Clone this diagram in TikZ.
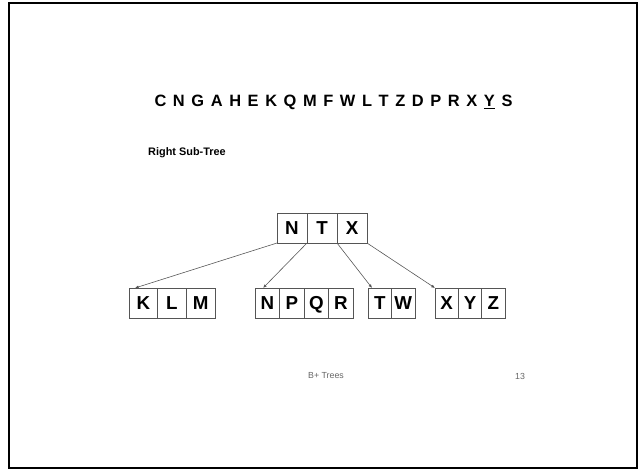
\documentclass[tikz,border=0pt]{standalone}
\usepackage{fontspec}
\setmainfont{Liberation Sans}
\newfontfamily\seqfont[WordSpace=1.45]{Liberation Sans}
\usetikzlibrary{arrows.meta,positioning}
\definecolor{BTLine}{HTML}{555555}
\definecolor{BTFoot}{HTML}{666666}
\tikzset{
  btKey/.style={
    rectangle, draw=BTLine, line width=0.5pt, fill=white,
    minimum width=#1, minimum height=0.9cm, inner sep=0pt, outer sep=0pt,
    text height=11.5pt, text depth=0pt,
    font=\fontsize{16}{16}\selectfont\bfseries
  },
  btKey/.default=0.9cm,
  btLink/.style={-{Latex[length=1.1mm,width=0.9mm]}, draw=BTLine, line width=0.5pt},
  btFoot/.style={font=\fontsize{7.5}{8}\selectfont, text=BTFoot, inner sep=0pt}
}

\begin{document}
\begin{tikzpicture}[x=0.03cm, y=-0.03cm]
  \useasboundingbox (0,0) rectangle (639,471);
  \draw[line width=1.6pt] (9,3) rectangle (637,468);

  % insertion sequence and caption
  \node (seq) at (333.5,102) {\seqfont\bfseries\fontsize{14}{14}\selectfont C N G A H E K Q M F W L T Z D P R X \underline{Y} S};
  \node[anchor=west, inner sep=0pt, font=\fontsize{9.3}{10}\selectfont\bfseries] (cap) at (148,153) {Right Sub-Tree};

  % root
  \node[btKey] (r1) at (292,228) {N};
  \node[btKey, right=0pt of r1] (r2) {T};
  \node[btKey, right=0pt of r2] (r3) {X};

  % leaves
  \node[btKey=0.86cm] (klm1) at (143.3,303) {K};
  \node[btKey=0.86cm, right=0pt of klm1] (klm2) {L};
  \node[btKey=0.86cm, right=0pt of klm2] (klm3) {M};

  \node[btKey=0.735cm] (npqr1) at (267.3,303) {N};
  \node[btKey=0.735cm, right=0pt of npqr1] (npqr2) {P};
  \node[btKey=0.735cm, right=0pt of npqr2] (npqr3) {Q};
  \node[btKey=0.735cm, right=0pt of npqr3] (npqr4) {R};

  \node[btKey=0.705cm] (tw1) at (379.8,303) {T};
  \node[btKey=0.705cm, right=0pt of tw1] (tw2) {W};

  \node[btKey=0.7cm] (xyz1) at (446.7,303) {X};
  \node[btKey=0.7cm, right=0pt of xyz1] (xyz2) {Y};
  \node[btKey=0.7cm, right=0pt of xyz2] (xyz3) {Z};

  \draw[btLink] (r1.south west) -- ([xshift=0.18cm]klm1.north west);
  \draw[btLink] (r2.south west) -- ([xshift=0.24cm]npqr1.north west);
  \draw[btLink] (r3.south west) -- ([xshift=0.12cm]tw1.north west);
  \draw[btLink] (r3.south east) -- (xyz1.north west);

  % footer
  \node[btFoot] (foot) at (326,376) {B+ Trees};
  \node[btFoot] (page) at (520,376) {13};
\end{tikzpicture}
\end{document}
